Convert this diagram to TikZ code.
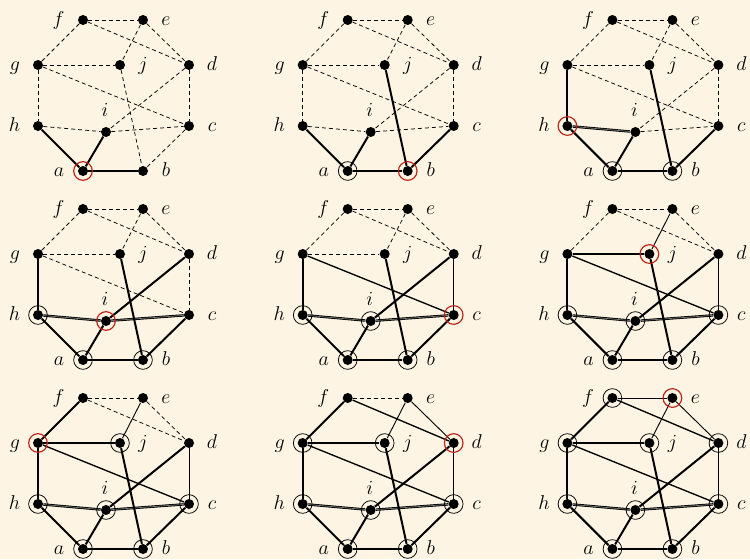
\documentclass[tikz,border=0pt]{standalone}
\usepackage{xcolor}
\definecolor{bg}{RGB}{253,244,227}
\definecolor{vred}{RGB}{190,35,25}
\tikzset{
  dot/.style={circle,fill=black,inner sep=0pt,minimum size=6pt},
  lbl/.style={anchor=base,inner sep=0pt,font=\fontsize{12}{14}\selectfont},
  dsh/.style={line width=0.45pt,dash pattern=on 2.4pt off 1.8pt},
  thk/.style={line width=1.2pt},
  med/.style={line width=0.8pt},
  thn/.style={line width=0.55pt},
  dbl/.style={line width=0.5pt,double=black!55,double distance=0.45pt},
  seen/.style={circle,draw=black,line width=0.45pt,inner sep=0pt,minimum size=11.2pt},
  cur/.style={circle,draw=vred,line width=0.7pt,inner sep=0pt,minimum size=11.2pt},
}
\newcommand\GraphNodes{%
  \node[dot] (f) at (83,20) {};
  \node[dot] (e) at (143,20) {};
  \node[dot] (g) at (38,65) {};
  \node[dot] (j) at (120,65) {};
  \node[dot] (d) at (189,65) {};
  \node[dot] (h) at (38,126) {};
  \node[dot] (i) at (106,132) {};
  \node[dot] (c) at (189,126) {};
  \node[dot] (a) at (83,171) {};
  \node[dot] (b) at (143,171) {};
  \node[lbl] (lf) at (58.5,25) {$f$};
  \node[lbl] (le) at (166,25) {$e$};
  \node[lbl] (lg) at (15,70) {$g$};
  \node[lbl] (lj) at (143,70) {$j$};
  \node[lbl] (ld) at (212,70) {$d$};
  \node[lbl] (lh) at (14.5,131) {$h$};
  \node[lbl] (li) at (105,116.5) {$i$};
  \node[lbl] (lc) at (212,131) {$c$};
  \node[lbl] (la) at (59,176) {$a$};
  \node[lbl] (lb) at (166,176) {$b$};
}
\newcommand\Edges[1]{\foreach \u/\v/\s in {#1} {\draw[\s] (\u) -- (\v);}}
\newcommand\Seen[1]{\foreach \n in {#1} {\node[seen] (s\n) at (\n) {};}}
\begin{document}
\begin{tikzpicture}[x=0.6pt,y=-0.6pt]
\useasboundingbox (0,0) rectangle (750,559);
\fill[bg] (0,0) rectangle (750,559);
% panel 1
\begin{scope}[name prefix=p1-]
  \GraphNodes
  \Edges{f/e/dsh,f/g/dsh,f/d/dsh,e/d/dsh,e/j/dsh,g/j/dsh,g/h/dsh,g/c/dsh,j/b/dsh,d/c/dsh,d/i/dsh,h/i/dsh,i/c/dsh,c/b/dsh,h/a/thk,i/a/thk,a/b/thk}
  \node[cur] (r) at (a) {};
\end{scope}
% panel 2
\begin{scope}[shift={(264.7,0)},name prefix=p2-]
  \GraphNodes
  \Edges{f/e/dsh,f/g/dsh,f/d/dsh,e/d/dsh,e/j/dsh,g/j/dsh,g/h/dsh,g/c/dsh,d/c/dsh,d/i/dsh,h/i/dsh,i/c/dsh,j/b/thk,c/b/thk,h/a/thk,i/a/thk,a/b/thk}
  \Seen{a}
  \node[cur] (r) at (b) {};
\end{scope}
% panel 3
\begin{scope}[shift={(529.4,0)},name prefix=p3-]
  \GraphNodes
  \Edges{f/e/dsh,f/g/dsh,f/d/dsh,e/d/dsh,e/j/dsh,g/j/dsh,g/c/dsh,d/c/dsh,d/i/dsh,i/c/dsh,g/h/thk,h/i/dbl,j/b/thk,c/b/thk,h/a/thk,i/a/thk,a/b/thk}
  \Seen{a,b}
  \node[cur] (r) at (h) {};
\end{scope}
% panel 4
\begin{scope}[shift={(0,189)},name prefix=p4-]
  \GraphNodes
  \Edges{f/e/dsh,f/g/dsh,f/d/dsh,e/d/dsh,e/j/dsh,g/j/dsh,g/c/dsh,d/c/dsh,d/i/thk,i/c/dbl,g/h/thk,h/i/dbl,j/b/thk,c/b/thk,h/a/thk,i/a/thk,a/b/thk}
  \Seen{h,a,b}
  \node[cur] (r) at (i) {};
\end{scope}
% panel 5
\begin{scope}[shift={(264.7,189)},name prefix=p5-]
  \GraphNodes
  \Edges{f/e/dsh,f/g/dsh,f/d/dsh,e/d/dsh,e/j/dsh,g/j/dsh,g/c/med,d/c/thn,d/i/thk,i/c/dbl,g/h/thk,h/i/dbl,j/b/thk,c/b/thk,h/a/thk,i/a/thk,a/b/thk}
  \Seen{h,i,a,b}
  \node[cur] (r) at (c) {};
\end{scope}
% panel 6
\begin{scope}[shift={(529.4,189)},name prefix=p6-]
  \GraphNodes
  \Edges{f/e/dsh,f/g/dsh,f/d/dsh,e/d/dsh,e/j/thn,g/j/thk,g/c/med,d/c/thn,d/i/thk,i/c/dbl,g/h/thk,h/i/dbl,j/b/thk,c/b/thk,h/a/thk,i/a/thk,a/b/thk}
  \Seen{h,i,c,a,b}
  \node[cur] (r) at (j) {};
\end{scope}
% panel 7
\begin{scope}[shift={(0,378)},name prefix=p7-]
  \GraphNodes
  \Edges{f/e/dsh,f/d/dsh,e/d/dsh,f/g/thk,e/j/thn,g/j/thk,g/c/med,d/c/thn,d/i/thk,i/c/dbl,g/h/thk,h/i/dbl,j/b/thk,c/b/thk,h/a/thk,i/a/thk,a/b/thk}
  \Seen{h,i,c,a,b,j}
  \node[cur] (r) at (g) {};
\end{scope}
% panel 8
\begin{scope}[shift={(264.7,378)},name prefix=p8-]
  \GraphNodes
  \Edges{f/e/dsh,f/d/med,e/d/thn,f/g/thk,e/j/thn,g/j/thk,g/c/med,d/c/thn,d/i/thk,i/c/dbl,g/h/thk,h/i/dbl,j/b/thk,c/b/thk,h/a/thk,i/a/thk,a/b/thk}
  \Seen{g,j,h,i,c,a,b}
  \node[cur] (r) at (d) {};
\end{scope}
% panel 9
\begin{scope}[shift={(529.4,378)},name prefix=p9-]
  \GraphNodes
  \Edges{f/e/thn,f/d/med,e/d/thn,f/g/thk,e/j/thn,g/j/thk,g/c/med,d/c/thn,d/i/thk,i/c/dbl,g/h/thk,h/i/dbl,j/b/thk,c/b/thk,h/a/thk,i/a/thk,a/b/thk}
  \Seen{f,g,j,d,h,i,c,a,b}
  \node[cur] (r) at (e) {};
\end{scope}
\end{tikzpicture}
\end{document}
